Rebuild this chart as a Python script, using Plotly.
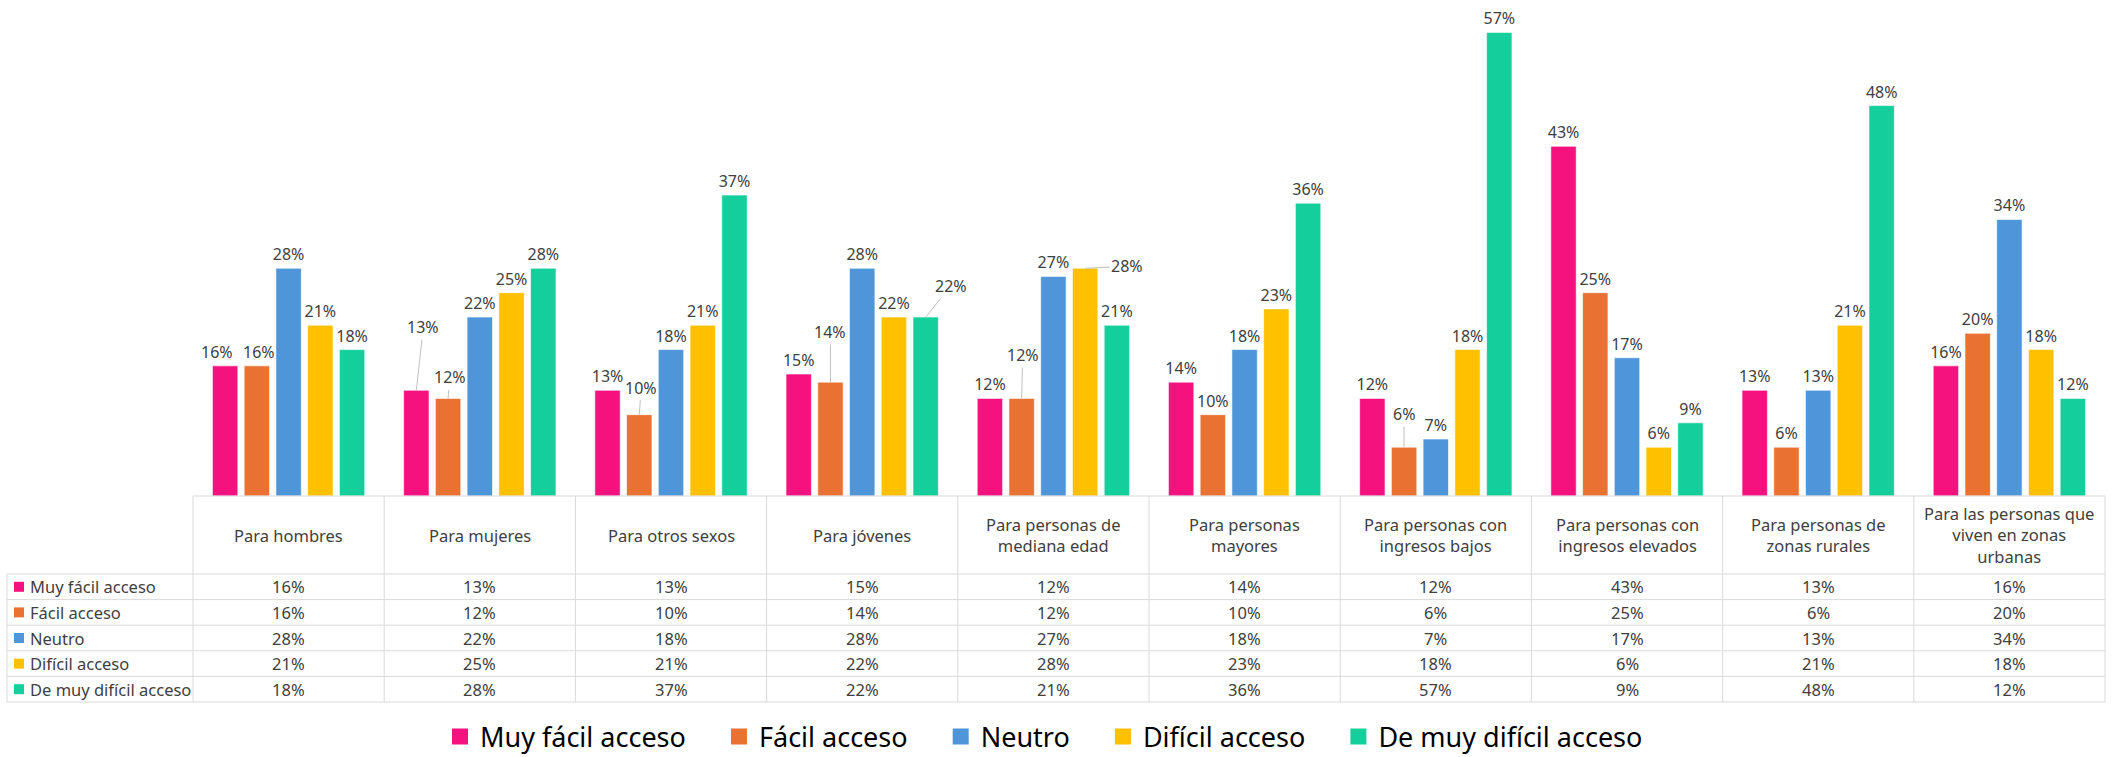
import plotly.graph_objects as go

categories = ["Para hombres", "Para mujeres", "Para otros sexos", "Para jóvenes",
              "Para personas de<br>mediana edad", "Para personas<br>mayores",
              "Para personas con<br>ingresos bajos", "Para personas con<br>ingresos elevados",
              "Para personas de<br>zonas rurales", "Para las personas que<br>viven en zonas<br>urbanas"]
series_names = ["Muy fácil acceso", "Fácil acceso", "Neutro", "Difícil acceso", "De muy difícil acceso"]
muy_facil = [16, 13, 13, 15, 12, 14, 12, 43, 13, 16]
facil = [16, 12, 10, 14, 12, 10, 6, 25, 6, 20]
neutro = [28, 22, 18, 28, 27, 18, 7, 17, 13, 34]
dificil = [21, 25, 21, 22, 28, 23, 18, 6, 21, 18]
muy_dificil = [18, 28, 37, 22, 21, 36, 57, 9, 48, 12]
series_values = [muy_facil, facil, neutro, dificil, muy_dificil]
colors = ["#F5127F", "#E97132", "#4E95D9", "#FFC000", "#14CF9C"]

# labels moved off the bar top with a leader line: (series, category) -> (dx px, height above bar top px)
label_moves = {(0, 1): (7, 63), (1, 1): (2, 21), (1, 2): (2, 27), (1, 3): (0, 50),
               (4, 3): (25, 31), (1, 4): (1, 43), (3, 4): (42, 2), (1, 6): (0, 33)}
# labels nudged sideways without a leader line: (series, category) -> dx px
label_nudges = {(0, 0): -8, (1, 0): 2}

# layout geometry (pixels)
W, H = 2116, 757
L, R, T, B = 193, 11, 8, 261
PW, PH = W - L - R, H - T - B
FONT = "Noto Sans"
TXT = "#404040"
GRID = "#D9D9D9"
BARGAP, GROUPGAP = 0.17, 0.2
LABEL_SIZE = 16
TABLE_SIZE = 16.5

def px_x(px):
    return (px - L) / PW

def px_y(py):
    return (H - B - py) / PH

xs = list(range(len(categories)))
n_series = len(series_names)
slot = (1 - BARGAP) / n_series

fig = go.Figure()
annotations = []
for s, (name, vals, col) in enumerate(zip(series_names, series_values, colors)):
    texts = []
    for i, v in enumerate(vals):
        bx = i + (s - (n_series - 1) / 2) * slot
        if (s, i) in label_moves:
            texts.append("")
            dx, up = label_moves[(s, i)]
            annotations.append(dict(
                x=bx, xref="x", y=v, yref="y",
                text=f"{v}%", showarrow=True, arrowhead=0, arrowwidth=1, arrowcolor="#BFBFBF",
                ax=dx, ay=-up, standoff=0, startstandoff=0,
                font=dict(family=FONT, size=LABEL_SIZE, color=TXT)))
        elif (s, i) in label_nudges:
            texts.append("")
            annotations.append(dict(
                x=bx, xref="x", y=v, yref="y", text=f"{v}%", showarrow=False,
                xanchor="center", yanchor="bottom", xshift=label_nudges[(s, i)], yshift=1,
                font=dict(family=FONT, size=LABEL_SIZE, color=TXT)))
        else:
            texts.append(f"{v}%")
    fig.add_trace(go.Bar(
        x=xs, y=vals, name=name, showlegend=False,
        marker=dict(color=col, line=dict(color="rgba(255,255,255,0.6)", width=1)),
        text=texts, textposition="outside", constraintext="none",
        textfont=dict(family=FONT, size=LABEL_SIZE, color=TXT),
        cliponaxis=False, hoverinfo="skip",
    ))

# legend entries (square swatches)
for name, col in zip(series_names, colors):
    fig.add_trace(go.Scatter(
        x=[None], y=[None], mode="markers", name=name + "\u00a0" * 4,
        marker=dict(symbol="square", size=16, color=col), hoverinfo="skip"))

shapes = []
base_y = H - B
header_bottom = 574
row_h = 25.6
table_bottom = header_bottom + n_series * row_h
left_edge = 7
col_w = PW / len(categories)

# horizontal lines
shapes.append(dict(type="line", xref="paper", yref="paper", x0=px_x(L), x1=px_x(L + PW),
                   y0=px_y(base_y), y1=px_y(base_y), line=dict(color=GRID, width=1)))
for i in range(n_series + 1):
    yy = header_bottom + i * row_h
    shapes.append(dict(type="line", xref="paper", yref="paper", x0=px_x(left_edge), x1=px_x(L + PW),
                       y0=px_y(yy), y1=px_y(yy), line=dict(color=GRID, width=1)))
# vertical lines
shapes.append(dict(type="line", xref="paper", yref="paper", x0=px_x(left_edge), x1=px_x(left_edge),
                   y0=px_y(header_bottom), y1=px_y(table_bottom), line=dict(color=GRID, width=1)))
for k in range(len(categories) + 1):
    xx = L + k * col_w
    shapes.append(dict(type="line", xref="paper", yref="paper", x0=px_x(xx), x1=px_x(xx),
                       y0=px_y(base_y), y1=px_y(table_bottom), line=dict(color=GRID, width=1)))

# header texts
for i, c in enumerate(categories):
    annotations.append(dict(x=i, xref="x", y=px_y((base_y + header_bottom) / 2), yref="paper",
                            text=c, showarrow=False, xanchor="center", yanchor="middle",
                            font=dict(family=FONT, size=TABLE_SIZE, color=TXT), align="center"))

# rows
for r, (name, vals, col) in enumerate(zip(series_names, series_values, colors)):
    yc = header_bottom + (r + 0.5) * row_h
    shapes.append(dict(type="rect", xref="paper", yref="paper",
                       x0=px_x(14), x1=px_x(24), y0=px_y(yc - 5), y1=px_y(yc + 5),
                       fillcolor=col, line=dict(width=0)))
    annotations.append(dict(x=px_x(28), xref="paper", y=px_y(yc), yref="paper", text=name,
                            showarrow=False, xanchor="left", yanchor="middle",
                            font=dict(family=FONT, size=TABLE_SIZE, color=TXT)))
    for i, v in enumerate(vals):
        annotations.append(dict(x=i, xref="x", y=px_y(yc), yref="paper", text=f"{v}%",
                                showarrow=False, xanchor="center", yanchor="middle",
                                font=dict(family=FONT, size=TABLE_SIZE, color=TXT)))

fig.update_layout(
    width=W, height=H,
    margin=dict(l=L, r=R, t=T, b=B, pad=0),
    paper_bgcolor="white", plot_bgcolor="white",
    barmode="group", bargap=BARGAP, bargroupgap=GROUPGAP,
    font=dict(family=FONT, color=TXT),
    uniformtext=dict(minsize=LABEL_SIZE, mode="show"),
    xaxis=dict(range=[-0.5, len(categories) - 0.5], showticklabels=False, showgrid=False,
               zeroline=False, showline=False, ticks=""),
    yaxis=dict(range=[0, 60], visible=False),
    showlegend=True,
    legend=dict(orientation="h", x=0.5, xanchor="center", xref="container",
                y=1 - 737 / H, yanchor="middle", yref="container",
                font=dict(family=FONT, size=27, color="#000000"), itemwidth=30),
    shapes=shapes, annotations=annotations,
)

fig.write_html("out.html", config={"displayModeBar": False},
               post_script="document.body.style.margin='0';document.body.style.padding='0';"
                           "document.body.style.overflow='hidden';")
